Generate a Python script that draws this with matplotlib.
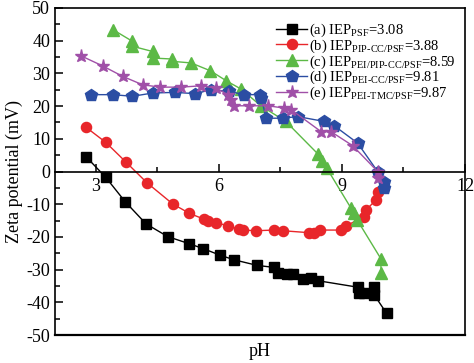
"""Zeta potential vs pH for the membrane series."""

import matplotlib
matplotlib.use("Agg")
import matplotlib.pyplot as plt
from matplotlib.ticker import MultipleLocator

plt.rcParams["font.family"] = ["Liberation Serif", "DejaVu Serif"]
plt.rcParams["mathtext.fontset"] = "custom"
plt.rcParams["mathtext.rm"] = "Liberation Serif"
plt.rcParams["axes.unicode_minus"] = False

# (a) PSF
ph_a = [2.76, 3.24, 3.71, 4.22, 4.75, 5.28, 5.62, 6.03, 6.37, 6.93, 7.33, 7.43,
        7.67, 7.80, 8.04, 8.24, 8.42, 9.40, 9.42, 9.54, 9.79, 9.79, 10.09]
zeta_a = [4.5, -1.8, -9.2, -16.0, -19.9, -22.1, -23.6, -25.6, -27.0, -28.7, -29.3, -30.9,
          -31.3, -31.3, -32.8, -32.7, -33.4, -35.4, -37.2, -37.2, -35.4, -37.8, -43.4]

# (b) PIP-CC/PSF
ph_b = [2.76, 3.24, 3.73, 4.24, 4.87, 5.28, 5.64, 5.72, 5.93, 6.21, 6.50, 6.58,
        6.90, 7.35, 7.55, 8.20, 8.32, 8.47, 8.98, 9.10, 9.54, 9.59, 9.83, 9.87]
zeta_b = [13.5, 8.9, 2.9, -3.4, -9.9, -12.8, -14.6, -15.0, -15.6, -16.6, -17.7, -17.9,
          -18.1, -17.9, -18.1, -18.7, -18.9, -17.9, -17.9, -16.6, -13.8, -11.7, -8.7, -6.4]

# (c) PEI/PIP-CC/PSF
ph_c = [3.41, 3.89, 3.89, 4.38, 4.38, 4.85, 4.85, 5.32, 5.79, 6.17, 6.54, 7.02,
        7.63, 8.41, 8.51, 8.63, 9.22, 9.30, 9.37, 9.95, 9.95]
zeta_c = [43.4, 39.8, 38.3, 36.7, 34.7, 34.4, 33.7, 33.2, 30.8, 27.8, 25.2, 20.1,
          15.3, 5.4, 3.3, 1.0, -11.2, -12.8, -14.8, -26.7, -31.1]

# (d) PEI-CC/PSF
ph_d = [2.89, 3.41, 3.89, 4.38, 4.93, 5.42, 5.80, 6.24, 6.62, 7.01, 7.03, 7.15,
        7.55, 7.92, 8.57, 8.81, 9.38, 9.87, 10.03, 10.03]
zeta_d = [23.5, 23.5, 23.0, 24.0, 24.2, 23.8, 25.0, 24.5, 23.5, 23.5, 22.6, 16.3,
          16.3, 16.8, 15.3, 14.0, 8.7, 0.0, -3.1, -5.1]

# (e) PEI-TMC/PSF
ph_e = [2.63, 3.16, 3.65, 4.14, 4.57, 5.07, 5.56, 5.93, 6.21, 6.29, 6.37, 6.74,
        7.19, 7.59, 7.76, 8.49, 8.73, 9.26, 9.87, 9.87]
zeta_e = [35.4, 32.3, 29.1, 26.5, 25.8, 25.8, 26.2, 25.5, 23.5, 21.9, 20.1, 20.1,
          20.1, 19.4, 18.9, 12.2, 12.2, 7.9, 0.0, -2.0]

labels = [
    r"(a) IEP$_{\mathregular{PSF}}$=3.08",
    r"(b) IEP$_{\mathregular{PIP\text{-}CC/PSF}}$=3.88",
    r"(c) IEP$_{\mathregular{PEI/PIP\text{-}CC/PSF}}$=8.59",
    r"(d) IEP$_{\mathregular{PEI\text{-}CC/PSF}}$=9.81",
    r"(e) IEP$_{\mathregular{PEI\text{-}TMC/PSF}}$=9.87",
]

fig = plt.figure(figsize=(4.74, 3.63), dpi=100)
ax = fig.add_axes([0.116, 0.077, 0.865, 0.901])

series = [
    (ph_a, zeta_a, "s", "#000000", 6.5),
    (ph_b, zeta_b, "o", "#e8262a", 7.3),
    (ph_c, zeta_c, "^", "#5cb946", 8.5),
    (ph_d, zeta_d, "p", "#2b4da3", 8.7),
    (ph_e, zeta_e, "*", "#a050a8", 9.5),
]
for (x, y, m, c, ms), lab in zip(series, labels):
    ax.plot(x, y, marker=m, color=c, ms=ms, lw=1.0, mec=c, label=lab)

ax.set_xlim(2, 12)
ax.set_ylim(-50, 50)
ax.xaxis.set_major_locator(MultipleLocator(3))
ax.xaxis.set_minor_locator(MultipleLocator(1.5))
ax.yaxis.set_major_locator(MultipleLocator(10))
ax.yaxis.set_minor_locator(MultipleLocator(5))

ax.spines["bottom"].set_position(("data", 0))
for s in ax.spines.values():
    s.set_linewidth(1.2)
ax.axhline(-50, color="k", lw=1.6, clip_on=False)
ax.tick_params(which="both", direction="in", top=False, right=False, labelsize=13)
ax.tick_params(which="major", length=6, width=1.1)
ax.tick_params(which="minor", length=3.5, width=1.1)
ax.tick_params(axis="x", pad=5)

ax.set_ylabel("Zeta potential (mV)", fontsize=13, labelpad=2)
ax.set_xlabel("pH", fontsize=13)
ax.xaxis.set_label_coords(0.5, -0.025)

ax.legend(loc="upper left", bbox_to_anchor=(0.515, 0.99), frameon=False,
          fontsize=10.5, handlelength=2.1, handletextpad=0.15, labelspacing=-0.1,
          borderpad=0.2)

fig.savefig("out.png", dpi=100)
